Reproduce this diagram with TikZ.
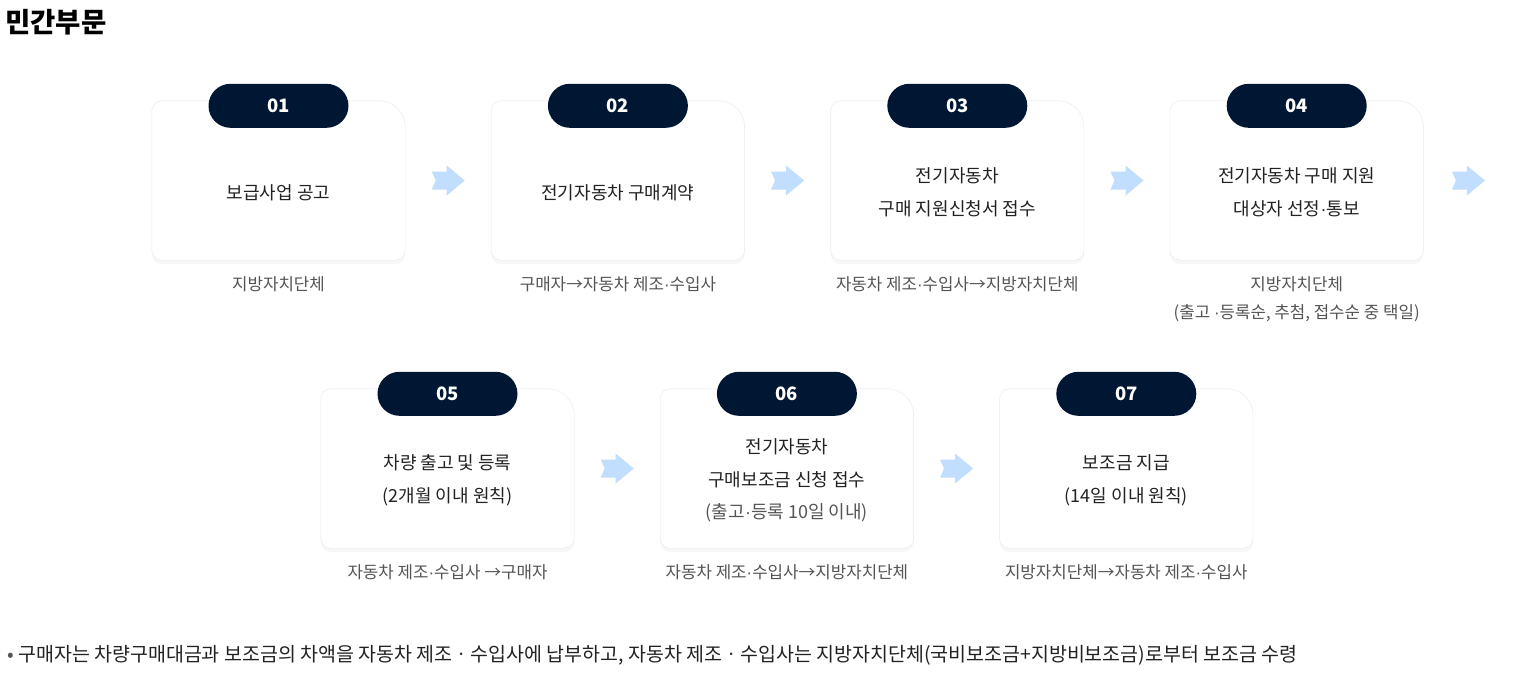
\documentclass[tikz,border=0pt]{standalone}
\usepackage{fontspec}
\setmainfont{Noto Sans CJK KR}
\newfontfamily\dotfont{Liberation Sans}
\newcommand{\mdot}{{\dotfont ·}}
\usepackage{xcolor}
\usetikzlibrary{positioning,shadows}
\definecolor{StepNavy}{HTML}{001733}
\definecolor{ArrowBlue}{HTML}{C2DEFF}
\definecolor{CardLine}{HTML}{E8E8E8}
\definecolor{MainText}{HTML}{222222}
\definecolor{SubText}{HTML}{555555}

\begin{document}
\begin{tikzpicture}[
    x=1pt, y=-1pt,
    every node/.style={align=center},
    card/.style={minimum width=253pt, minimum height=159pt, inner sep=0pt},
    cardline/.style={draw=CardLine, fill=white, drop shadow={opacity=0.06, shadow xshift=0pt, shadow yshift=-4pt}},
    badge/.style={fill=StepNavy, text=white, rounded corners=22pt, minimum width=140pt, minimum height=44pt, font=\fontsize{18.5}{18.5}\selectfont\bfseries},
    cardtext/.style={text=MainText, font=\fontsize{18}{32.5}\selectfont},
    who/.style={text=SubText, inner sep=0pt, font=\fontsize{16.8}{28}\selectfont},
    flowarrow/.pic={\fill[ArrowBlue] (-16.5,-9) -- (-1.5,-9) -- (-1.5,-15) -- (16.5,0) -- (-1.5,15) -- (-1.5,9) -- (-16.5,9) -- (-12.5,0) -- cycle;}
  ]
  \fill[white] (0,0) rectangle (1529,675);
  \useasboundingbox (0,0) rectangle (1529,675);

  \node[anchor=west, inner sep=0pt, font=\fontsize{27.5}{27.5}\selectfont\bfseries] (title) at (5,22) {민간부문};

  % cards
  \node[card] (b1) at (278.5,180.5) {};
  \node[card, right=86pt of b1] (b2) {};
  \node[card, right=86pt of b2] (b3) {};
  \node[card, right=86pt of b3] (b4) {};
  \node[card] (b5) at (447.5,468.5) {};
  \node[card, right=86pt of b5] (b6) {};
  \node[card, right=86pt of b6] (b7) {};

  \foreach \b in {b1,b2,b3,b4,b5,b6,b7}
    \path[cardline] (\b.west) [rounded corners=10pt] -- (\b.north west) -- (\b.north)
      [rounded corners=26pt] -- (\b.north east) -- (\b.east)
      [rounded corners=10pt] -- (\b.south east) -- (\b.south west) -- cycle;

  \foreach \b/\n in {b1/01,b2/02,b3/03,b4/04,b5/05,b6/06,b7/07}
    \node[badge] (tab-\b) at ([yshift=-5pt]\b.north) {\n};

  \node[cardtext] (t1) at ([yshift=-12pt]b1.center) {보급사업 공고};
  \node[cardtext] (t2) at ([yshift=-12pt]b2.center) {전기자동차 구매계약};
  \node[cardtext] (t3) at ([yshift=-12pt]b3.center) {전기자동차\\구매 지원신청서 접수};
  \node[cardtext] (t4) at ([yshift=-12pt]b4.center) {전기자동차 구매 지원\\대상자 선정\mdot 통보};
  \node[cardtext] (t5) at ([yshift=-12pt]b5.center) {차량 출고 및 등록\\(2개월 이내 원칙)};
  \node[cardtext] (t6) at ([yshift=-12pt]b6.center) {전기자동차\\구매보조금 신청 접수\\{\color{SubText}(출고\mdot 등록 10일 이내)}};
  \node[cardtext] (t7) at ([yshift=-12pt]b7.center) {보조금 지급\\(14일 이내 원칙)};

  % who does what
  \node[who, below=16pt of b1] (l1) {지방자치단체};
  \node[who, below=16pt of b2] (l2) {구매자→자동차 제조\mdot 수입사};
  \node[who, below=16pt of b3] (l3) {자동차 제조\mdot 수입사→지방자치단체};
  \node[who, below=16pt of b4] (l4) {지방자치단체\\(출고 \mdot 등록순, 추첨, 접수순 중 택일)};
  \node[who, below=16pt of b5] (l5) {자동차 제조\mdot 수입사 →구매자};
  \node[who, below=16pt of b6] (l6) {자동차 제조\mdot 수입사→지방자치단체};
  \node[who, below=16pt of b7] (l7) {지방자치단체→자동차 제조\mdot 수입사};

  % arrows between cards
  \path (b1) -- (b2) coordinate[midway] (a12);
  \path (b2) -- (b3) coordinate[midway] (a23);
  \path (b3) -- (b4) coordinate[midway] (a34);
  \path (b5) -- (b6) coordinate[midway] (a56);
  \path (b6) -- (b7) coordinate[midway] (a67);
  \coordinate (a4x) at ([xshift=45pt]b4.east);
  \foreach \a in {a12,a23,a34,a4x,a56,a67}
    \pic at (\a) {flowarrow};

  \node[anchor=west, inner sep=0pt, text=MainText, font=\fontsize{19.5}{19.5}\selectfont] (note) at (7,655) {{\color{SubText}•} 구매자는 차량구매대금과 보조금의 차액을 자동차 제조ㆍ수입사에 납부하고, 자동차 제조ㆍ수입사는 지방자치단체(국비보조금+지방비보조금)로부터 보조금 수령};
\end{tikzpicture}
\end{document}
